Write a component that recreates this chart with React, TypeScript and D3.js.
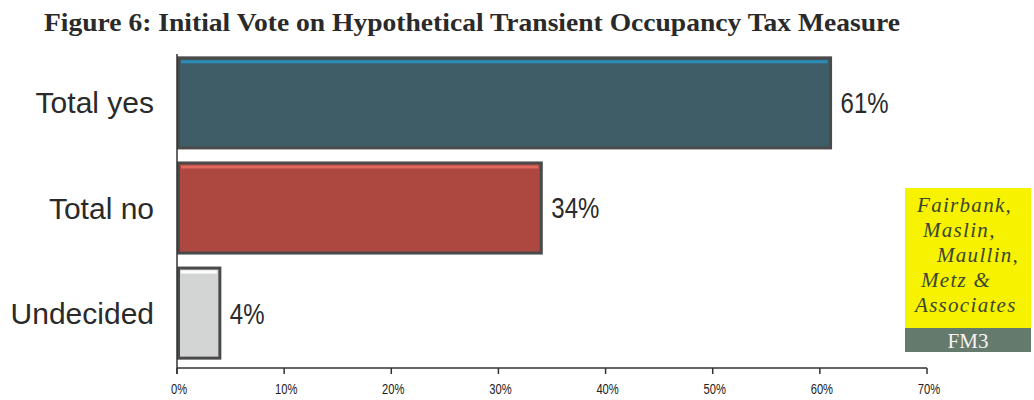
import React from "react";
import * as d3 from "d3";

const categories = ["Total yes", "Total no", "Undecided"];
const values = [61, 34, 4];
const valueLabels = ["61%", "34%", "4%"];
const xTicks = [0, 10, 20, 30, 40, 50, 60, 70];
const fills = ["#3f5d66", "#ad4840", "#d2d5d3"];
const highlights = ["#2c8db8", "#e2675f", "#ffffff"];
const logoLines = ["Fairbank,", "Maslin,", "Maullin,", "Metz &", "Associates"];
const logoOffsets = [0, 6, 20, 4, -2];
const title = "Figure 6: Initial Vote on Hypothetical Transient Occupancy Tax Measure";

export default function App() {
  const W = 1034, H = 400;
  const x = d3.scaleLinear().domain([0, 70]).range([177, 927]);
  const y = d3.scaleBand().domain(categories).range([50.5, 365.5]).paddingInner(0.143).paddingOuter(0.07);
  const axisY = 368;
  const bw = y.bandwidth();
  const narrow = "'Liberation Sans', Arial, sans-serif";
  return (
    <svg width={W} height={H} style={{ position: "absolute", left: 0, top: 0, background: "#fff" }}>
      <text x={44} y={31} fontFamily="'Liberation Serif', 'Times New Roman', serif" fontWeight="bold" fontSize={26}
        fill="#2a2a2a" textLength={856} lengthAdjust="spacingAndGlyphs">{title}</text>
      {categories.map((c, i) => {
        const y0 = y(c)!;
        const x1 = x(values[i]);
        return (
          <g key={c}>
            <rect x={x(0) + 1.5} y={y0} width={x1 - x(0) - 1.5} height={bw} fill={fills[i]} stroke="#4a4a4a" strokeWidth={3} />
            <line x1={x(0) + 4} x2={x1 - 3} y1={y0 + 4} y2={y0 + 4} stroke={highlights[i]} strokeWidth={3} />
            <text x={154} y={y0 + bw / 2} textAnchor="end" dominantBaseline="central"
              fontFamily="'Liberation Sans', Arial, sans-serif" fontSize={30} fill="#2a2a2a">{c}</text>
            <text transform={`translate(${x1 + 10},${y0 + bw / 2}) scale(0.8,1)`} dominantBaseline="central"
              fontFamily={narrow} fontSize={30} fill="#2a2a2a">{valueLabels[i]}</text>
          </g>
        );
      })}
      <line x1={x(0)} x2={x(0)} y1={54} y2={axisY + 6} stroke="#333" strokeWidth={1.5} />
      <line x1={x(0)} x2={x(70)} y1={axisY} y2={axisY} stroke="#333" strokeWidth={1.5} />
      {xTicks.map((t) => (
        <g key={t}>
          <line x1={x(t)} x2={x(t)} y1={axisY} y2={axisY + 6} stroke="#333" strokeWidth={1.5} />
          <text transform={`translate(${x(t) + 2},390) scale(0.8,1)`} textAnchor="middle" dominantBaseline="central"
            fontFamily={narrow} fontSize={14} fill="#222">{t + "%"}</text>
        </g>
      ))}
      <rect x={905} y={188} width={126} height={140} fill="#f7f200" />
      <rect x={905} y={328} width={126} height={24} fill="#637a6c" />
      {logoLines.map((l, i) => (
        <text key={l} x={917 + logoOffsets[i]} y={205 + i * 25} dominantBaseline="central"
          fontFamily="'Liberation Serif', serif" fontStyle="italic" fontSize={21} letterSpacing={1.3}
          fill="#3a4632">{l}</text>
      ))}
      <text x={968} y={341} textAnchor="middle" dominantBaseline="central"
        fontFamily="'Liberation Serif', serif" fontSize={21} fill="#f4f4f4">FM3</text>
    </svg>
  );
}
